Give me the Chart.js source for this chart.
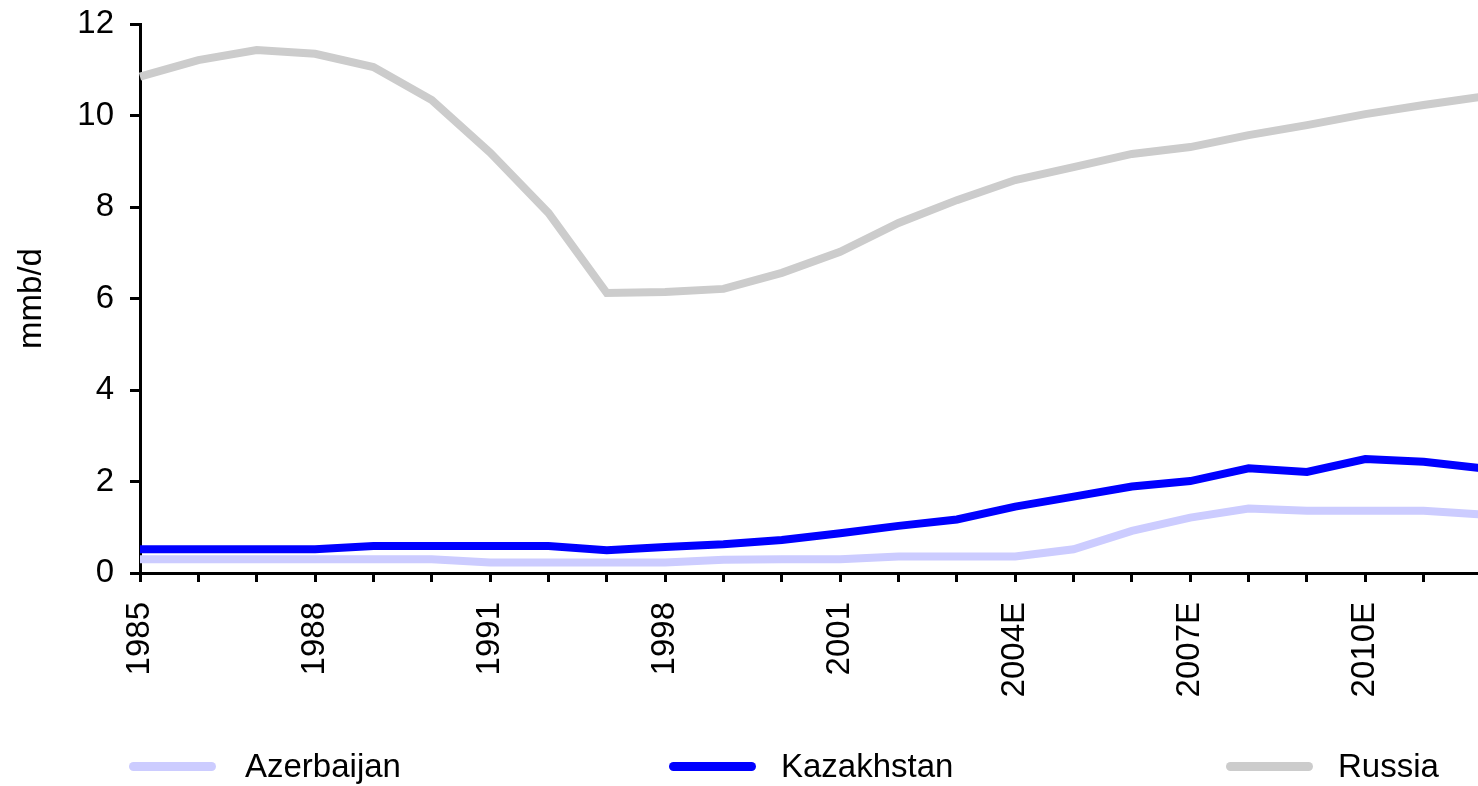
<!DOCTYPE html>
<html><head><meta charset="utf-8">
<script src="https://cdn.jsdelivr.net/npm/chart.js@4"></script>
<style>
html,body{margin:0;padding:0;background:#fff;overflow:hidden;width:1478px;height:786px;}
#wrap{position:absolute;left:0;top:0;width:1482px;height:786px;}
.lg{position:absolute;top:749px;height:33px;line-height:33px;font-family:"Liberation Sans",Arial,sans-serif;font-size:33px;color:#000;white-space:nowrap;}
.ln{position:absolute;top:762px;height:9px;border-radius:4.5px;width:87px;}
</style></head><body>
<div id="wrap"><canvas id="c"></canvas></div>
<div id="legend"></div>
<script>
// ---- data ----
const categories = ['1985','1986','1987','1988','1989','1990','1991','1992','1997','1998','1999','2000','2001','2002','2003','2004E','2005E','2006E','2007E','2008E','2009E','2010E','2011E','2012E'];
const shownTickLabels = ['1985','1988','1991','1998','2001','2004E','2007E','2010E'];
const seriesNames = ['Azerbaijan','Kazakhstan','Russia'];
const seriesColors = ['#ccccff','#0000ff','#cccccc'];
const azerbaijan = [0.30,0.30,0.30,0.30,0.30,0.30,0.23,0.23,0.23,0.23,0.29,0.30,0.30,0.36,0.36,0.36,0.52,0.92,1.21,1.41,1.36,1.36,1.36,1.28];
const kazakhstan = [0.52,0.52,0.52,0.52,0.59,0.59,0.59,0.59,0.50,0.57,0.63,0.72,0.87,1.03,1.17,1.45,1.67,1.89,2.01,2.29,2.21,2.49,2.43,2.29];
const russia = [10.85,11.21,11.43,11.35,11.06,10.34,9.19,7.87,6.12,6.14,6.21,6.56,7.02,7.65,8.15,8.59,8.87,9.16,9.31,9.57,9.79,10.03,10.23,10.41];
const yMin = 0, yMax = 12, yStep = 2;
const yTitle = 'mmb/d';

const FONT = '"Liberation Sans", Arial, sans-serif';
const seriesData = [azerbaijan, kazakhstan, russia];

const chart = new Chart(document.getElementById('c'), {
  type: 'line',
  data: {
    labels: categories,
    datasets: seriesNames.map((n, i) => ({
      label: n, data: seriesData[i], borderColor: seriesColors[i], backgroundColor: seriesColors[i],
      borderWidth: 8, pointRadius: 0, tension: 0, fill: false
    }))
  },
  options: {
    responsive: true, maintainAspectRatio: false, animation: false,
    layout: { padding: { top: 24, left: 0, right: 0, bottom: 0 } },
    plugins: { legend: { display: false }, tooltip: { enabled: false } },
    scales: {
      x: {
        type: 'category', offset: false,
        grid: { drawOnChartArea: false, drawTicks: true, tickLength: 9, tickWidth: 3, tickColor: '#000', offset: false },
        border: { display: true, color: '#000', width: 3 },
        ticks: {
          autoSkip: false, minRotation: 90, maxRotation: 90, padding: 20, color: '#000',
          font: { family: FONT, size: 33 },
          callback: function (v) { const l = this.getLabelForValue(v); return shownTickLabels.includes(l) ? l : ''; }
        },
        afterFit: s => { s.height = 213; s.paddingLeft = 0; s.paddingRight = 0; }
      },
      y: {
        min: yMin, max: yMax,
        grid: { drawOnChartArea: false, drawTicks: true, tickLength: 10, tickWidth: 3, tickColor: '#000' },
        border: { display: true, color: '#000', width: 3 },
        ticks: { stepSize: yStep, padding: 16, color: '#000', font: { family: FONT, size: 33 } },
        title: { display: true, text: yTitle, color: '#000', font: { family: FONT, size: 33 }, padding: { top: 12, bottom: 0 } },
        afterFit: s => { s.width = 140; s.paddingTop = 0; s.paddingBottom = 0; }
      }
    }
  }
});

// HTML legend
const lineLefts = [129, 669, 1226];
const textLefts = [245, 781, 1338];
const lg = document.getElementById('legend');
seriesNames.forEach((n, i) => {
  const ln = document.createElement('div'); ln.className = 'ln';
  ln.style.left = lineLefts[i] + 'px'; ln.style.background = seriesColors[i]; lg.appendChild(ln);
  const t = document.createElement('div'); t.className = 'lg'; t.textContent = n;
  t.style.left = textLefts[i] + 'px'; lg.appendChild(t);
});
</script>
</body></html>
